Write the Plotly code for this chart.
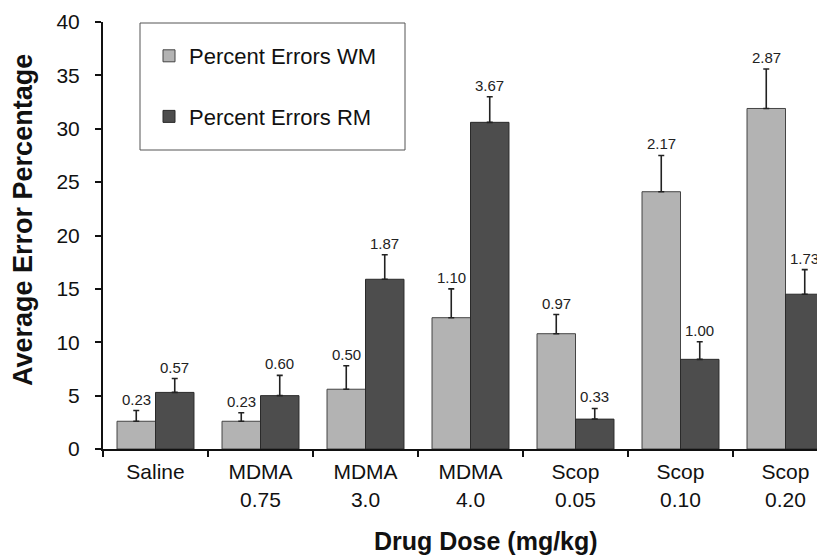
import plotly.graph_objects as go

categories = ["Saline", "MDMA<br>0.75", "MDMA<br>3.0", "MDMA<br>4.0",
              "Scop<br>0.05", "Scop<br>0.10", "Scop<br>0.20"]
wm_values = [2.6, 2.6, 5.6, 12.3, 10.8, 24.1, 31.9]
wm_errors = [1.0, 0.8, 2.2, 2.7, 1.8, 3.4, 3.7]
rm_values = [5.3, 5.0, 15.9, 30.6, 2.8, 8.4, 14.5]
rm_errors = [1.3, 1.9, 2.3, 2.4, 1.0, 1.65, 2.3]
wm_labels = ["0.23", "0.23", "0.50", "1.10", "0.97", "2.17", "2.87"]
rm_labels = ["0.57", "0.60", "1.87", "3.67", "0.33", "1.00", "1.73"]
y_ticks = [0, 5, 10, 15, 20, 25, 30, 35, 40]

FONT = "Arial, Liberation Sans, sans-serif"
OFF = 8  # default page body margin
W, H = 825 - OFF, 558 - OFF
# plot area in window pixels: x 103..825, y 22..449
ML, MR, MT, MB = 103 - OFF, 0, 22 - OFF, 558 - 449
PW = W - ML - MR
PH = H - MT - MB

def px_x(p):
    return (p - OFF - ML) / PW

def px_y(p):
    return (H - MB - (p - OFF)) / PH

fig = go.Figure()
fig.add_trace(go.Bar(
    x=categories, y=wm_values, name="Percent Errors WM", legendgroup="wm",
    marker=dict(color="#b3b3b3", line=dict(color="#444444", width=1)),
    error_y=dict(type="data", array=wm_errors, arrayminus=[0] * len(wm_errors),
                 symmetric=False, color="#222222", thickness=1.6, width=3),
))
fig.add_trace(go.Bar(
    x=categories, y=rm_values, name="Percent Errors RM", legendgroup="rm",
    marker=dict(color="#4d4d4d", line=dict(color="#2a2a2a", width=1)),
    error_y=dict(type="data", array=rm_errors, arrayminus=[0] * len(rm_errors),
                 symmetric=False, color="#222222", thickness=1.6, width=3),
))

bar_px = PW / (6.5 - 13 / 105 + 0.5) * (1 - 0.267) / 2
annotations = []
for i, c in enumerate(categories):
    for vals, errs, labs, sign in ((wm_values, wm_errors, wm_labels, -1),
                                   (rm_values, rm_errors, rm_labels, 1)):
        annotations.append(dict(
            x=c, y=vals[i] + errs[i], xref="x", yref="y",
            text=labs[i], showarrow=False, yanchor="bottom",
            xshift=sign * bar_px / 2, yshift=1,
            font=dict(family=FONT, size=15, color="#222222"),
        ))

annotations.append(dict(
    text="<b>Average Error Percentage</b>", textangle=-90, showarrow=False,
    xref="paper", yref="paper", x=px_x(23), y=px_y(220),
    xanchor="center", yanchor="middle",
    font=dict(family=FONT, size=27, color="#111111"),
))
annotations.append(dict(
    text="<b>Drug Dose (mg/kg)</b>", showarrow=False,
    xref="paper", yref="paper", x=px_x(486), y=px_y(541),
    xanchor="center", yanchor="middle",
    font=dict(family=FONT, size=25, color="#111111"),
))

# legend box
bx0, bx1, by0, by1 = 140, 405, 23, 150
shapes = [dict(type="rect", xref="paper", yref="paper",
               x0=px_x(bx0), x1=px_x(bx1), y0=px_y(by1), y1=px_y(by0),
               line=dict(color="#555555", width=1), fillcolor="rgba(0,0,0,0)")]

fig.update_layout(
    width=W, height=H,
    margin=dict(l=ML, r=MR, t=MT, b=MB, pad=0, autoexpand=False),
    paper_bgcolor="white", plot_bgcolor="white",
    barmode="group", bargap=0.267, bargroupgap=0,
    font=dict(family=FONT, color="#111111"),
    annotations=annotations, shapes=shapes,
    legend=dict(
        x=px_x(149), xanchor="left",
        y=px_y(35), yanchor="top",
        bgcolor="rgba(0,0,0,0)", borderwidth=0,
        font=dict(family=FONT, size=22, color="#111111"),
        tracegroupgap=29, traceorder="grouped",
    ),
    xaxis=dict(
        type="category", range=[-0.5, 6.5 - 13 / 105], automargin=False,
        showline=True, linecolor="#111111", linewidth=2,
        ticks="outside", tickson="boundaries", ticklen=6, tickwidth=2,
        tickcolor="#111111", ticklabelstandoff=3,
        tickfont=dict(family=FONT, size=21, color="#111111"),
        showgrid=False, zeroline=False,
    ),
    yaxis=dict(
        range=[0, 40], tickvals=y_ticks, automargin=False,
        showline=True, linecolor="#111111", linewidth=2,
        ticks="outside", ticklen=6, tickwidth=2, tickcolor="#111111",
        ticklabelstandoff=11,
        tickfont=dict(family=FONT, size=21, color="#111111"),
        showgrid=False, zeroline=False,
    ),
)

fig.write_html("out.html")
